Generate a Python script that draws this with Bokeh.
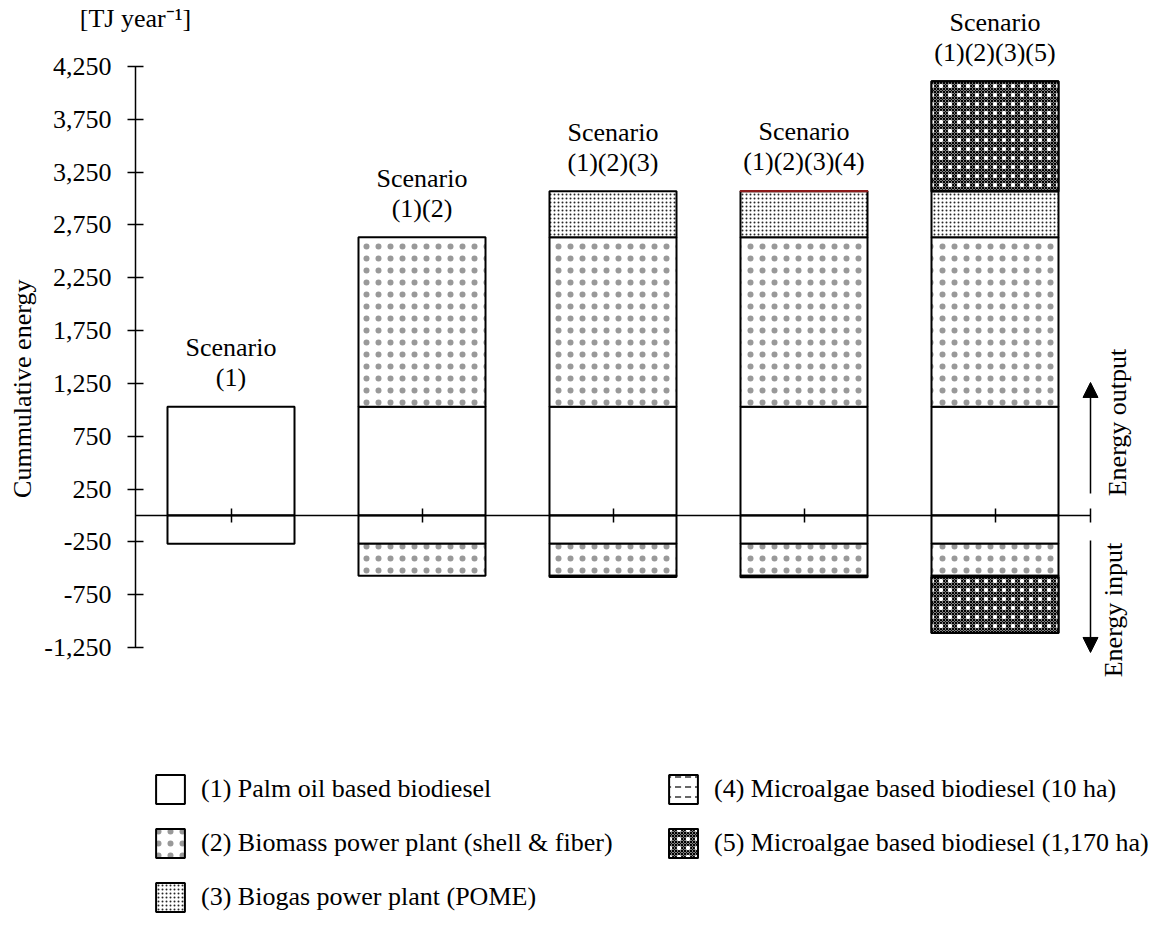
import numpy as np
from math import pi
from bokeh.plotting import figure
from bokeh.models import (ColumnDataSource, Range1d, LinearAxis, FixedTicker,
                          NumeralTickFormatter, Legend, LegendItem, Arrow, NormalHead)
from bokeh.core.properties import value
from bokeh.embed import file_html
from bokeh.resources import INLINE

# ---------------- data ----------------
x_pos = [0.5, 1.5, 2.5, 3.5, 4.5]
scen_line1 = ["Scenario", "Scenario", "Scenario", "Scenario", "Scenario"]
scen_line2 = ["(1)", "(1)(2)", "(1)(2)(3)", "(1)(2)(3)(4)", "(1)(2)(3)(5)"]

palm_out = [1030, 1030, 1030, 1030, 1030]
palm_in = [-268, -268, -268, -268, -268]
biomass_out = [0, 1603, 1603, 1603, 1603]
biomass_in = [0, -302, -302, -302, -302]
biogas_out = [0, 0, 435, 435, 435]
biogas_in = [0, 0, -12, -12, -12]
algae10_out = [0, 0, 0, 4, 0]
algae10_in = [0, 0, 0, -3, 0]
algae1170_out = [0, 0, 0, 0, 1042]
algae1170_in = [0, 0, 0, 0, -530]

legend_labels = ["(1) Palm oil based biodiesel",
                 "(2) Biomass power plant (shell & fiber)",
                 "(3) Biogas power plant (POME)",
                 "(4) Microalgae based biodiesel (10 ha)",
                 "(5) Microalgae based biodiesel (1,170 ha)"]

y_ticks = [-1250, -750, -250, 250, 750, 1250, 1750, 2250, 2750, 3250, 3750, 4250]

FONT = "Liberation Serif"
FS = "26px"

# ---------------- figure ----------------
UPP = 5500 / 581.0          # data units per pixel (vertical)
p = figure(width=1149, height=917,
           x_range=Range1d(-135 / 191, (1149 - 135) / 191),
           y_range=Range1d(-1250 - (917 - 647) * UPP, 4250 + 66 * UPP),
           x_axis_type=None, y_axis_type=None,
           toolbar_location=None, output_backend="svg",
           min_border=0, outline_line_color=None)

yaxis = LinearAxis(fixed_location=0, bounds=(-1250, 4250),
                   ticker=FixedTicker(ticks=y_ticks),
                   formatter=NumeralTickFormatter(format="0,0"),
                   major_tick_in=8, major_tick_out=8,
                   minor_tick_line_color=None,
                   axis_line_width=1.5, major_tick_line_width=1.5,
                   major_label_standoff=16,
                   major_label_text_font=FONT,
                   major_label_text_font_size=FS,
                   major_label_text_color="black")
p.add_layout(yaxis, "left")

xaxis = LinearAxis(fixed_location=0, bounds=(0, 5),
                   ticker=FixedTicker(ticks=x_pos + [5]),
                   major_tick_in=7, major_tick_out=7,
                   minor_tick_line_color=None,
                   axis_line_width=1.5, major_tick_line_width=1.5,
                   major_label_text_color=None)
p.add_layout(xaxis, "below")

# each component: list of layers (drawn on top of each other)
styles = [
    [dict(fill_color="white")],
    [dict(fill_color="white", hatch_pattern="dot", hatch_scale=12, hatch_weight=0.3,
          hatch_color="black", hatch_alpha=0.4)],
    [dict(fill_color="white", hatch_pattern="dot", hatch_scale=4, hatch_weight=1.0,
          hatch_color="black", hatch_alpha=0.85)],
    [dict(fill_color="white", hatch_pattern="horizontal_dash", hatch_scale=10,
          hatch_weight=1.2, hatch_color="black")],
    [dict(fill_color="#808080", hatch_pattern="diagonal_cross", hatch_scale=3,
          hatch_weight=1.0, hatch_color="black"),
     dict(fill_alpha=0, hatch_pattern="dot", hatch_scale=9, hatch_weight=0.5,
          hatch_color="white")],
]

outs = [palm_out, biomass_out, biogas_out, algae10_out, algae1170_out]
ins = [palm_in, biomass_in, biogas_in, algae10_in, algae1170_in]

xs = np.array(x_pos, dtype=float)
cum_out = np.zeros(5)
cum_in = np.zeros(5)
legend_renderers = []
for k in range(5):
    o = np.array(outs[k], dtype=float)
    i = np.array(ins[k], dtype=float)
    lc = "#8b1a1a" if k == 3 else "black"
    m = o != 0
    src = ColumnDataSource(dict(x=xs[m], bottom=cum_out[m], top=(cum_out + o)[m]))
    m2 = i != 0
    src2 = ColumnDataSource(dict(x=xs[m2], bottom=(cum_in + i)[m2], top=cum_in[m2]))
    rs = []
    for st in styles[k]:
        p.vbar(x="x", bottom="bottom", top="top", width=0.665, source=src,
               line_color=lc, line_width=2, **st)
        rs.append(p.vbar(x="x", bottom="bottom", top="top", width=0.665, source=src2,
                         line_color="black", line_width=2, **st))
    cum_out = cum_out + o
    cum_in = cum_in + i
    legend_renderers.append(rs)

# scenario labels above bars
p.text(x=xs, y=cum_out + 29 * UPP, text=scen_line2,
       text_align="center", text_baseline="middle",
       text_font=value(FONT), text_font_size=value(FS), text_color="black")
p.text(x=xs, y=cum_out + 59 * UPP, text=scen_line1,
       text_align="center", text_baseline="middle",
       text_font=value(FONT), text_font_size=value(FS), text_color="black")

# unit and axis title
p.text(x=[0], y=[4250 + 48 * UPP], text=["[TJ year\u207b\u00b9]"],
       text_align="center", text_baseline="middle",
       text_font=value(FONT), text_font_size=value(FS), text_color="black")
p.text(x=[(22 - 135) / 191], y=[1230], text=["Cummulative  energy"], angle=pi / 2,
       text_align="center", text_baseline="middle",
       text_font=value(FONT), text_font_size=value(FS), text_color="black")

# arrows on the right
p.add_layout(Arrow(x_start=5, y_start=208, x_end=5, y_end=1259, line_width=1.5,
                   end=NormalHead(size=15, fill_color="black", line_color="black")))
p.add_layout(Arrow(x_start=5, y_start=-237, x_end=5, y_end=-1297, line_width=1.5,
                   end=NormalHead(size=15, fill_color="black", line_color="black")))
p.text(x=[(1117 - 135) / 191], y=[880], text=["Energy output"], angle=pi / 2,
       text_align="center", text_baseline="middle",
       text_font=value(FONT), text_font_size=value(FS), text_color="black")
p.text(x=[(1113 - 135) / 191], y=[-895], text=["Energy input"], angle=pi / 2,
       text_align="center", text_baseline="middle",
       text_font=value(FONT), text_font_size=value(FS), text_color="black")

# legends
common = dict(glyph_width=36, glyph_height=36, label_text_font=FONT,
              label_text_font_size=FS, label_text_color="black", spacing=18,
              background_fill_alpha=0, border_line_color=None, padding=0, margin=0,
              label_standoff=13, label_text_line_height=1.0)
leg1 = Legend(items=[LegendItem(label=legend_labels[k], renderers=legend_renderers[k])
                     for k in range(3)], location=(152, 2), **common)
leg2 = Legend(items=[LegendItem(label=legend_labels[k], renderers=legend_renderers[k])
                     for k in range(3, 5)], location=(665, 56), **common)
p.add_layout(leg1)
p.add_layout(leg2)

open("out.html", "w").write(file_html(p, INLINE))
